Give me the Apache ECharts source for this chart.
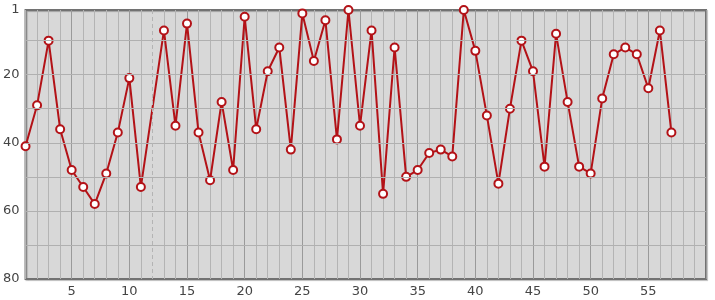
<!DOCTYPE html>
<html>
<head>
<meta charset="utf-8">
<script src="https://cdn.jsdelivr.net/npm/echarts@6/dist/echarts.min.js"></script>
<style>
html,body{margin:0;padding:0;background:#fff;}
#chart{width:715px;height:300px;}
</style>
</head>
<body>
<div id="chart"></div>
<script>
// x positions 1..57 (12 missing)
const xValues = [1,2,3,4,5,6,7,8,9,10,11,12,13,14,15,16,17,18,19,20,21,22,23,24,25,26,27,28,29,30,31,32,33,34,35,36,37,38,39,40,41,42,43,44,45,46,47,48,49,50,51,52,53,54,55,56,57];
const rankValues = [41,29,10,36,48,53,58,49,37,21,53,null,7,35,5,37,51,28,48,3,36,19,12,42,2,16,4,39,1,35,7,55,12,50,48,43,42,44,1,13,32,52,30,10,19,47,8,28,47,49,27,14,12,14,24,7,37];
const xTickLabels = [5,10,15,20,25,30,35,40,45,50,55];
const yTickLabels = [1,20,40,60,80];
const yGridValues = [10,20,30,40,50,60,70];
const markerX = [12];

const xMin = 1, xMax = 60;
const seriesData = xValues.map((x, i) => [x, rankValues[i]]);

// split line colours for each integer from xMin to xMax
const splitColors = [];
for (let v = xMin; v <= xMax; v++) {
  if (markerX.indexOf(v) >= 0) splitColors.push('rgba(0,0,0,0)');
  else if (v % 5 === 0) splitColors.push('#9a9a9a');
  else splitColors.push('#b4b4b4');
}

const chart = echarts.init(document.getElementById('chart'));
const font = 'DejaVu Sans, Verdana, sans-serif';
chart.setOption({
  animation: false,
  grid: {
    left: 25, top: 10, right: 9, bottom: 21,
    show: true,
    backgroundColor: '#d8d8d8',
    borderColor: '#727272',
    borderWidth: 2,
    shadowColor: 'rgba(0,0,0,0.25)',
    shadowOffsetX: 1,
    shadowOffsetY: 1,
    shadowBlur: 1
  },
  xAxis: {
    type: 'value', min: xMin, max: xMax, interval: 1,
    axisLine: {show: false},
    axisTick: {show: false},
    axisLabel: {
      customValues: xTickLabels,
      color: '#444', fontSize: 13, fontFamily: font, margin: 6
    },
    splitLine: {
      show: true,
      lineStyle: {color: splitColors, width: 1}
    }
  },
  yAxis: {
    type: 'value', min: 1, max: 80, inverse: true,
    axisLine: {show: false},
    axisTick: {show: false},
    axisLabel: {
      customValues: yTickLabels,
      color: '#444', fontSize: 13, fontFamily: font, margin: 6
    },
    splitLine: {show: false}
  },
  series: [
    {
      type: 'line',
      data: [],
      silent: true,
      z: 1,
      markLine: {
        silent: true,
        symbol: ['none','none'],
        label: {show: false},
        animation: false,
        data: yGridValues.map(v => ({yAxis: v, lineStyle: {color: '#b0b0b0', width: 1, type: 'solid'}}))
          .concat(markerX.map(v => ({xAxis: v, lineStyle: {color: '#b4b4b4', width: 1, type: [4,3]}})))
      }
    },
    {
      type: 'line',
      data: seriesData,
      connectNulls: true,
      z: 3,
      symbol: 'circle',
      symbolSize: 8,
      lineStyle: {color: '#b31217', width: 2},
      itemStyle: {color: '#ffffff', borderColor: '#b31217', borderWidth: 2}
    }
  ]
});
</script>
</body>
</html>
